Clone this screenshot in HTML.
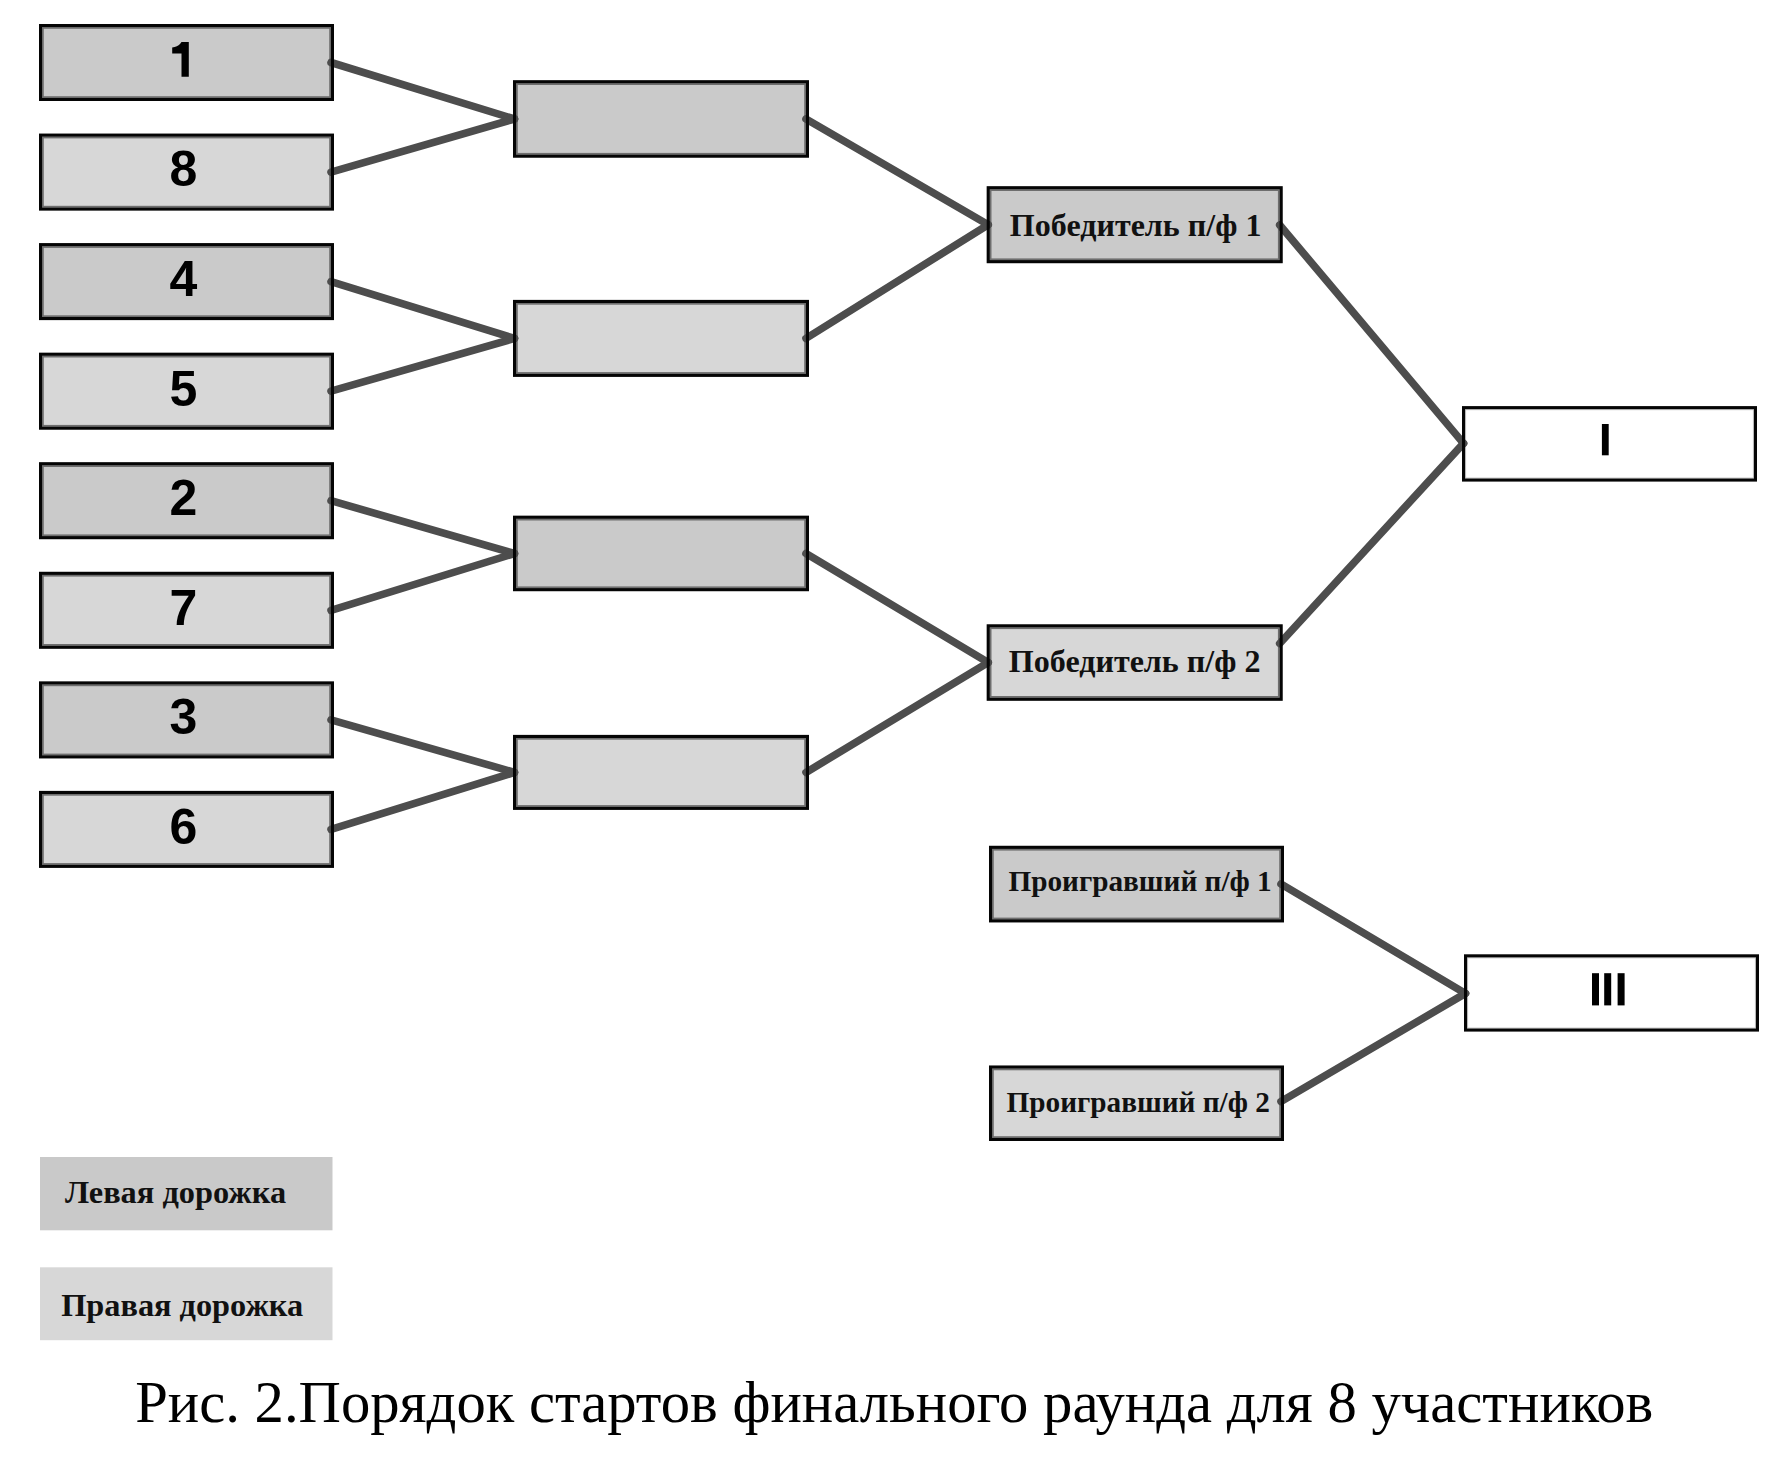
<!DOCTYPE html>
<html><head><meta charset="utf-8"><style>
html,body{margin:0;padding:0;background:#fff;}
body{width:1790px;height:1465px;overflow:hidden;}
svg{display:block;}
.sans{font-family:"Liberation Sans",sans-serif;font-weight:bold;}
.serb{font-family:"Liberation Serif",serif;font-weight:bold;}
.ser{font-family:"Liberation Serif",serif;}
</style></head><body>
<svg width="1790" height="1465" viewBox="0 0 1790 1465">
<rect x="39" y="24.0" width="295" height="77" fill="#cacaca"/>
<rect x="42.95" y="27.95" width="287.10" height="69.10" fill="none" stroke="#6e6e6e" stroke-width="1.7"/>
<rect x="39" y="133.6" width="295" height="77" fill="#d7d7d7"/>
<rect x="42.95" y="137.55" width="287.10" height="69.10" fill="none" stroke="#6e6e6e" stroke-width="1.7"/>
<rect x="39" y="243.1" width="295" height="77" fill="#cacaca"/>
<rect x="42.95" y="247.05" width="287.10" height="69.10" fill="none" stroke="#6e6e6e" stroke-width="1.7"/>
<rect x="39" y="352.7" width="295" height="77" fill="#d7d7d7"/>
<rect x="42.95" y="356.65" width="287.10" height="69.10" fill="none" stroke="#6e6e6e" stroke-width="1.7"/>
<rect x="39" y="462.2" width="295" height="77" fill="#cacaca"/>
<rect x="42.95" y="466.15" width="287.10" height="69.10" fill="none" stroke="#6e6e6e" stroke-width="1.7"/>
<rect x="39" y="571.8" width="295" height="77" fill="#d7d7d7"/>
<rect x="42.95" y="575.75" width="287.10" height="69.10" fill="none" stroke="#6e6e6e" stroke-width="1.7"/>
<rect x="39" y="681.4" width="295" height="77" fill="#cacaca"/>
<rect x="42.95" y="685.35" width="287.10" height="69.10" fill="none" stroke="#6e6e6e" stroke-width="1.7"/>
<rect x="39" y="790.9" width="295" height="77" fill="#d7d7d7"/>
<rect x="42.95" y="794.85" width="287.10" height="69.10" fill="none" stroke="#6e6e6e" stroke-width="1.7"/>
<rect x="513" y="80.2" width="296" height="77.5" fill="#cacaca"/>
<rect x="516.95" y="84.15" width="288.10" height="69.60" fill="none" stroke="#6e6e6e" stroke-width="1.7"/>
<rect x="513" y="299.9" width="296" height="77" fill="#d7d7d7"/>
<rect x="516.95" y="303.85" width="288.10" height="69.10" fill="none" stroke="#6e6e6e" stroke-width="1.7"/>
<rect x="513" y="515.7" width="296" height="75.5" fill="#cacaca"/>
<rect x="516.95" y="519.65" width="288.10" height="67.60" fill="none" stroke="#6e6e6e" stroke-width="1.7"/>
<rect x="513" y="734.9" width="296" height="75" fill="#d7d7d7"/>
<rect x="516.95" y="738.85" width="288.10" height="67.10" fill="none" stroke="#6e6e6e" stroke-width="1.7"/>
<rect x="986.7" y="186.2" width="296" height="77" fill="#cacaca"/>
<rect x="990.65" y="190.15" width="288.10" height="69.10" fill="none" stroke="#6e6e6e" stroke-width="1.7"/>
<rect x="986.7" y="624.3" width="296" height="76.5" fill="#d7d7d7"/>
<rect x="990.65" y="628.25" width="288.10" height="68.60" fill="none" stroke="#6e6e6e" stroke-width="1.7"/>
<rect x="989" y="845.8" width="295" height="76.6" fill="#cacaca"/>
<rect x="992.95" y="849.75" width="287.10" height="68.70" fill="none" stroke="#6e6e6e" stroke-width="1.7"/>
<rect x="989" y="1065.5" width="295" height="75.5" fill="#d7d7d7"/>
<rect x="992.95" y="1069.45" width="287.10" height="67.60" fill="none" stroke="#6e6e6e" stroke-width="1.7"/>
<rect x="1462" y="406.1" width="295" height="75.5" fill="#ffffff"/>
<rect x="1465.60" y="409.70" width="287.80" height="68.30" fill="none" stroke="#c8c8c8" stroke-width="1.0"/>
<rect x="1464" y="954.3" width="295" height="77.3" fill="#ffffff"/>
<rect x="1467.60" y="957.90" width="287.80" height="70.10" fill="none" stroke="#c8c8c8" stroke-width="1.0"/>
<line x1="331.0" y1="62.5" x2="514.5" y2="119.0" stroke="#4d4d4d" stroke-width="7.6" stroke-linecap="round"/>
<line x1="331.0" y1="172.1" x2="514.5" y2="119.0" stroke="#4d4d4d" stroke-width="7.6" stroke-linecap="round"/>
<line x1="331.0" y1="281.6" x2="514.5" y2="338.4" stroke="#4d4d4d" stroke-width="7.6" stroke-linecap="round"/>
<line x1="331.0" y1="391.2" x2="514.5" y2="338.4" stroke="#4d4d4d" stroke-width="7.6" stroke-linecap="round"/>
<line x1="331.0" y1="500.7" x2="514.5" y2="553.5" stroke="#4d4d4d" stroke-width="7.6" stroke-linecap="round"/>
<line x1="331.0" y1="610.3" x2="514.5" y2="553.5" stroke="#4d4d4d" stroke-width="7.6" stroke-linecap="round"/>
<line x1="331.0" y1="719.9" x2="514.5" y2="772.4" stroke="#4d4d4d" stroke-width="7.6" stroke-linecap="round"/>
<line x1="331.0" y1="829.4" x2="514.5" y2="772.4" stroke="#4d4d4d" stroke-width="7.6" stroke-linecap="round"/>
<line x1="806.0" y1="119.0" x2="988.2" y2="224.7" stroke="#4d4d4d" stroke-width="7.6" stroke-linecap="round"/>
<line x1="806.0" y1="338.4" x2="988.2" y2="224.7" stroke="#4d4d4d" stroke-width="7.6" stroke-linecap="round"/>
<line x1="806.0" y1="553.5" x2="988.2" y2="662.5" stroke="#4d4d4d" stroke-width="7.6" stroke-linecap="round"/>
<line x1="806.0" y1="772.4" x2="988.2" y2="662.5" stroke="#4d4d4d" stroke-width="7.6" stroke-linecap="round"/>
<line x1="1279.7" y1="225.0" x2="1463.5" y2="443.4" stroke="#4d4d4d" stroke-width="7.6" stroke-linecap="round"/>
<line x1="1279.7" y1="643.5" x2="1463.5" y2="443.4" stroke="#4d4d4d" stroke-width="7.6" stroke-linecap="round"/>
<line x1="1281.0" y1="884.0" x2="1465.5" y2="993.4" stroke="#4d4d4d" stroke-width="7.6" stroke-linecap="round"/>
<line x1="1281.0" y1="1101.5" x2="1465.5" y2="993.4" stroke="#4d4d4d" stroke-width="7.6" stroke-linecap="round"/>
<rect x="40.55" y="25.55" width="291.90" height="73.90" fill="none" stroke="#050505" stroke-width="3.1"/>
<rect x="40.55" y="135.15" width="291.90" height="73.90" fill="none" stroke="#050505" stroke-width="3.1"/>
<rect x="40.55" y="244.65" width="291.90" height="73.90" fill="none" stroke="#050505" stroke-width="3.1"/>
<rect x="40.55" y="354.25" width="291.90" height="73.90" fill="none" stroke="#050505" stroke-width="3.1"/>
<rect x="40.55" y="463.75" width="291.90" height="73.90" fill="none" stroke="#050505" stroke-width="3.1"/>
<rect x="40.55" y="573.35" width="291.90" height="73.90" fill="none" stroke="#050505" stroke-width="3.1"/>
<rect x="40.55" y="682.95" width="291.90" height="73.90" fill="none" stroke="#050505" stroke-width="3.1"/>
<rect x="40.55" y="792.45" width="291.90" height="73.90" fill="none" stroke="#050505" stroke-width="3.1"/>
<rect x="514.55" y="81.75" width="292.90" height="74.40" fill="none" stroke="#050505" stroke-width="3.1"/>
<rect x="514.55" y="301.45" width="292.90" height="73.90" fill="none" stroke="#050505" stroke-width="3.1"/>
<rect x="514.55" y="517.25" width="292.90" height="72.40" fill="none" stroke="#050505" stroke-width="3.1"/>
<rect x="514.55" y="736.45" width="292.90" height="71.90" fill="none" stroke="#050505" stroke-width="3.1"/>
<rect x="988.25" y="187.75" width="292.90" height="73.90" fill="none" stroke="#050505" stroke-width="3.1"/>
<rect x="988.25" y="625.85" width="292.90" height="73.40" fill="none" stroke="#050505" stroke-width="3.1"/>
<rect x="990.55" y="847.35" width="291.90" height="73.50" fill="none" stroke="#050505" stroke-width="3.1"/>
<rect x="990.55" y="1067.05" width="291.90" height="72.40" fill="none" stroke="#050505" stroke-width="3.1"/>
<rect x="1463.55" y="407.65" width="291.90" height="72.40" fill="none" stroke="#050505" stroke-width="3.1"/>
<rect x="1465.55" y="955.85" width="291.90" height="74.20" fill="none" stroke="#050505" stroke-width="3.1"/>
<path d="M181.5 42.1 L188.8 42.1 L188.8 76.8 L181.5 76.8 L181.5 53.6 L172.2 53.6 L172.2 47.5 Q177.5 47.1 180 44.1 Z" fill="#000"/>
<text class="sans" x="183.4" y="186.4" font-size="50" text-anchor="middle" fill="#000">8</text>
<text class="sans" x="183.4" y="295.9" font-size="50" text-anchor="middle" fill="#000">4</text>
<text class="sans" x="183.4" y="405.5" font-size="50" text-anchor="middle" fill="#000">5</text>
<text class="sans" x="183.4" y="515.0" font-size="50" text-anchor="middle" fill="#000">2</text>
<text class="sans" x="183.4" y="624.6" font-size="50" text-anchor="middle" fill="#000">7</text>
<text class="sans" x="183.4" y="734.2" font-size="50" text-anchor="middle" fill="#000">3</text>
<text class="sans" x="183.4" y="843.7" font-size="50" text-anchor="middle" fill="#000">6</text>
<rect x="1601.9" y="424" width="6.8" height="31.3" fill="#000"/>
<rect x="1592" y="973.2" width="7" height="32.2" fill="#000"/>
<rect x="1604.2" y="973.2" width="7" height="32.2" fill="#000"/>
<rect x="1617.6" y="973.2" width="7" height="32.2" fill="#000"/>
<text class="serb" x="1009.8" y="235.5" font-size="32.07" fill="#111">Победитель п/ф 1</text>
<text class="serb" x="1008.8" y="671.7" font-size="32.07" fill="#111">Победитель п/ф 2</text>
<text class="serb" x="1008.4" y="890.6" font-size="29.25" fill="#111">Проигравший п/ф 1</text>
<text class="serb" x="1006.5" y="1112.4" font-size="29.25" fill="#111">Проигравший п/ф 2</text>
<rect x="40" y="1157" width="292.5" height="73.3" fill="#c9c9c9"/>
<rect x="40" y="1267.3" width="292.5" height="72.9" fill="#d7d7d7"/>
<text class="serb" x="64.9" y="1202.6" font-size="32.36" fill="#111">Левая дорожка</text>
<text class="serb" x="61.2" y="1316" font-size="32.32" fill="#111">Правая дорожка</text>
<text class="ser" x="135.2" y="1422.3" font-size="58.67" fill="#000">Рис. 2.Порядок стартов финального раунда для 8 участников</text>
</svg></body></html>
